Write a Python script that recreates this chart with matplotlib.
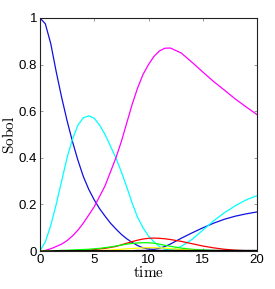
"""Sobol indices over time."""

import matplotlib
matplotlib.use('Agg')
import matplotlib.pyplot as plt  # noqa: E402

# Sample times and the indices
t = [0, 0.5, 1, 1.5, 2, 2.5, 3, 3.5, 4, 4.5, 5, 5.5, 6, 6.5, 7, 7.5, 8,
     8.5, 9, 9.5, 10, 10.5, 11, 11.5, 12, 13, 14, 15, 16, 17, 18, 19, 20]

blue = [1.0, 0.975, 0.89, 0.77, 0.66, 0.56, 0.47, 0.39, 0.32, 0.265, 0.22,
        0.182, 0.15, 0.12, 0.095, 0.072, 0.053, 0.037, 0.024, 0.014, 0.009,
        0.008, 0.012, 0.02, 0.03, 0.055, 0.078, 0.10, 0.12, 0.137, 0.15,
        0.16, 0.168]
cyan = [0.0, 0.04, 0.11, 0.2, 0.3, 0.4, 0.48, 0.54, 0.572, 0.58, 0.57, 0.54,
        0.5, 0.45, 0.40, 0.34, 0.275, 0.205, 0.145, 0.1, 0.065, 0.04, 0.02,
        0.008, 0.005, 0.02, 0.05, 0.09, 0.13, 0.165, 0.195, 0.22, 0.238]
magenta = [0.0, 0.003, 0.01, 0.02, 0.03, 0.045, 0.065, 0.09, 0.12, 0.155,
           0.19, 0.235, 0.28, 0.34, 0.40, 0.47, 0.55, 0.63, 0.70, 0.758,
           0.80, 0.835, 0.858, 0.87, 0.871, 0.85, 0.81, 0.768, 0.727, 0.69,
           0.652, 0.618, 0.585]
red = [0.0, 0.0, 0.0, 0.001, 0.001, 0.002, 0.002, 0.003, 0.004, 0.005,
       0.007, 0.009, 0.012, 0.016, 0.02, 0.027, 0.034, 0.041, 0.047, 0.052,
       0.055, 0.056, 0.055, 0.053, 0.05, 0.042, 0.032, 0.022, 0.014, 0.008,
       0.004, 0.002, 0.001]
green = [0.0, 0.001, 0.002, 0.002, 0.003, 0.004, 0.005, 0.006, 0.007, 0.008,
         0.01, 0.012, 0.015, 0.018, 0.022, 0.026, 0.03, 0.033, 0.035, 0.036,
         0.036, 0.034, 0.03, 0.025, 0.021, 0.013, 0.008, 0.005, 0.003, 0.002,
         0.001, 0.001, 0.0]
yellow = [0.0, 0.0, 0.0, 0.0, 0.0, 0.0, 0.0, 0.0, 0.001, 0.001, 0.002, 0.003,
          0.004, 0.005, 0.007, 0.008, 0.01, 0.011, 0.013, 0.014, 0.015, 0.015,
          0.014, 0.013, 0.011, 0.007, 0.004, 0.002, 0.001, 0.001, 0.0, 0.0,
          0.0]
black = [0.0, 0.001, 0.001, 0.002, 0.002, 0.002, 0.002, 0.002, 0.002, 0.002,
         0.002, 0.002, 0.002, 0.002, 0.002, 0.002, 0.002, 0.002, 0.003, 0.003,
         0.003, 0.003, 0.003, 0.003, 0.003, 0.003, 0.003, 0.003, 0.003, 0.003,
         0.003, 0.003, 0.003]

series = [(blue, '#1010e0'), (cyan, '#00ffff'), (magenta, '#ff00ff'),
          (red, '#ff0000'), (green, '#00ff00'), (yellow, '#ffff00'),
          (black, '#000000')]

plt.rcParams['font.family'] = ['Liberation Sans', 'DejaVu Sans']
plt.rcParams['mathtext.fontset'] = 'cm'

fig = plt.figure(figsize=(2.75, 2.89), dpi=100)
ax = fig.add_axes([0.145, 0.131, 0.79, 0.807])

for values, color in series:
    ax.plot(t, values, color=color, linewidth=0.9)

ax.set_xlim(0, 20)
ax.set_ylim(0, 1)
ax.set_xticks([0, 5, 10, 15, 20])
ax.set_yticks([0, 0.2, 0.4, 0.6, 0.8, 1])
ax.set_yticklabels(['0', '0.2', '0.4', '0.6', '0.8', '1'])
ax.tick_params(direction='in', top=True, right=True, labelsize=9.5,
               length=2.5, width=0.6, color='#888888', pad=2)
for spine in ax.spines.values():
    spine.set_linewidth(0.8)
    spine.set_color('#222222')

ax.set_xlabel(r'$\mathrm{time}$', fontsize=11, labelpad=-1)
ax.set_ylabel(r'$\mathrm{Sobol}$', fontsize=11, labelpad=1)

fig.savefig('out.png', dpi=100)
